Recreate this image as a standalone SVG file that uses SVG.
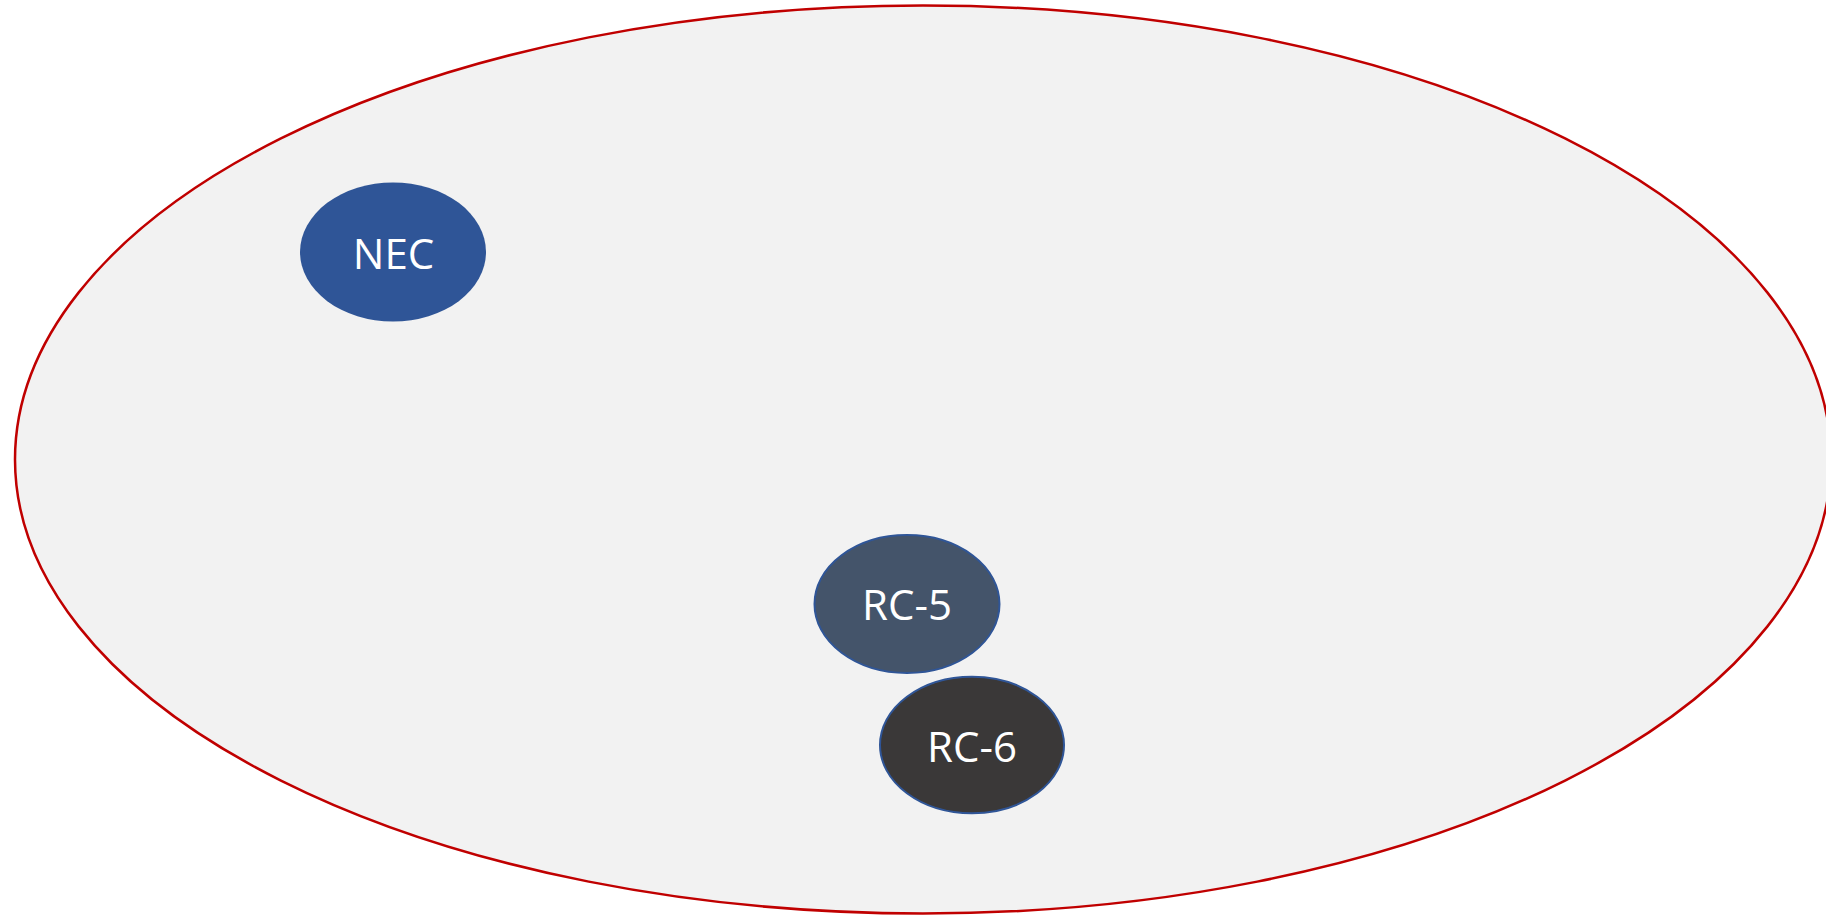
<svg xmlns="http://www.w3.org/2000/svg" width="1826" height="915" viewBox="0 0 1826 915">
<style>
.lbl{font-family:"Open Sans","Liberation Sans",sans-serif;font-size:42px;fill:#FFFFFF;text-anchor:middle}
.node{stroke:#2F5597;stroke-width:2}
</style>
<rect width="1826" height="915" fill="#FFFFFF"/>
<g id="boundary">
<ellipse cx="923" cy="459.5" rx="908" ry="454" fill="#F2F2F2" stroke="#C00000" stroke-width="2.5"/>
</g>
<g id="connectors"></g>
<g id="NEC">
<ellipse cx="393" cy="252" rx="93" ry="69.5" fill="#2F5597"/>
<text class="lbl" x="393.5" y="269">NEC</text>
</g>
<g id="RC-5">
<ellipse class="node" cx="907" cy="604" rx="92.5" ry="69" fill="#44546A"/>
<text class="lbl" x="907" y="620">RC-5</text>
</g>
<g id="RC-6">
<ellipse class="node" cx="972" cy="745" rx="92" ry="68.3" fill="#3A3838"/>
<text class="lbl" x="972" y="762">RC-6</text>
</g>
</svg>
